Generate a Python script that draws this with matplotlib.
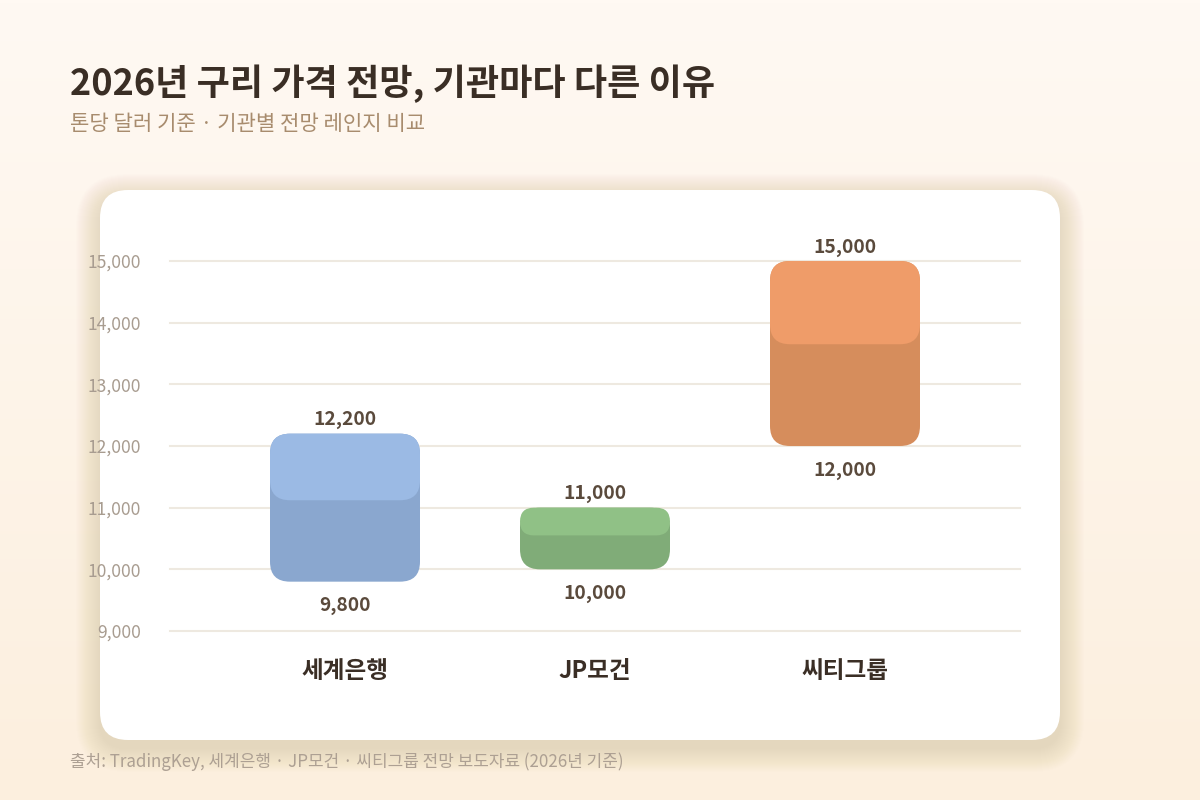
import numpy as np
import matplotlib.pyplot as plt
from matplotlib.patches import FancyBboxPatch

plt.rcParams['font.family'] = ['Noto Sans CJK KR', 'DejaVu Sans']

# data
institutions = ["세계은행", "JP모건", "씨티그룹"]
low_values = [9800, 10000, 12000]
high_values = [12200, 11000, 15000]
y_ticks = [9000, 10000, 11000, 12000, 13000, 14000, 15000]

base_colors = ["#8AA7CF", "#80AC78", "#D68D5C"]
cap_colors = ["#9BBAE4", "#90C186", "#EF9C69"]

title = "2026년 구리 가격 전망, 기관마다 다른 이유"
subtitle = "톤당 달러 기준 · 기관별 전망 레인지 비교"
source = "출처: TradingKey, 세계은행 · JP모건 · 씨티그룹 전망 보도자료 (2026년 기준)"

W, H = 1200, 800
fig = plt.figure(figsize=(12, 8), dpi=100)

# background gradient + card, in pixel coordinates
bg = fig.add_axes([0, 0, 1, 1], zorder=-10)
bg.set_xlim(0, W)
bg.set_ylim(0, H)
bg.axis('off')
top = np.array([255, 249, 243]) / 255
bottom = np.array([252, 239, 222]) / 255
t = np.linspace(0, 1, 256)[:, None]
grad = top * (1 - t) + bottom * t
grad = np.repeat(grad[:, None, :], 2, axis=1)
bg.imshow(grad, extent=[0, W, 0, H], aspect='auto', origin='upper')

card_x, card_y, card_w, card_h = 100, 60, 960, 550
for i in range(24, 0, -1):
    s = FancyBboxPatch((card_x - i, card_y - i - 8), card_w + 2 * i, card_h + 2 * i,
                       boxstyle="round,pad=0,rounding_size=%d" % (28 + i),
                       fc="#B89A78", ec="none", alpha=0.012)
    bg.add_patch(s)
bg.add_patch(FancyBboxPatch((card_x, card_y), card_w, card_h,
                            boxstyle="round,pad=0,rounding_size=28",
                            fc="white", ec="none"))

fig.text(70 / W, 1 - 84 / H, title, fontsize=26, fontweight='bold',
         color="#3A2E25", va='center', ha='left')
fig.text(70 / W, 1 - 124 / H, subtitle, fontsize=15.2, color="#A88C6E",
         va='center', ha='left')
fig.text(70 / W, 1 - 762 / H, source, fontsize=12.2, color="#ADA093",
         va='center', ha='left')

# main chart
ax_l, ax_b, ax_w, ax_h = 170, 169, 850, 370
ax = fig.add_axes([ax_l / W, ax_b / H, ax_w / W, ax_h / H])
ax.set_facecolor('none')
x = np.arange(len(institutions))
ax.set_xlim(-0.7, len(institutions) - 0.3)
ax.set_ylim(y_ticks[0], y_ticks[-1])
ax.set_yticks(y_ticks)
ax.set_yticklabels([f"{v:,}" for v in y_ticks], fontsize=12.6, color="#A89C90")
ax.set_xticks(x)
ax.set_xticklabels(institutions, fontsize=17, fontweight='bold', color="#3A2E25")
ax.tick_params(axis='y', length=0, pad=21)
ax.tick_params(axis='x', length=0, pad=20)
for sp in ax.spines.values():
    sp.set_visible(False)
ax.grid(axis='y', color="#EEE9E0", linewidth=1.5)
for gl in ax.get_ygridlines():
    gl.set_clip_on(False)
ax.set_axisbelow(True)

x_per_px = (ax.get_xlim()[1] - ax.get_xlim()[0]) / ax_w
y_per_px = (ax.get_ylim()[1] - ax.get_ylim()[0]) / ax_h
aspect = y_per_px / x_per_px
bar_w = 0.6
radius = 20 * x_per_px


def rounded(x0, y0, w, h, color):
    r = min(radius, h / aspect / 2)
    p = FancyBboxPatch((x0, y0), w, h,
                       boxstyle="round,pad=0,rounding_size=%f" % r,
                       mutation_aspect=aspect, fc=color, ec="none",
                       clip_on=False, zorder=3)
    ax.add_patch(p)


for xi, lo, hi, c1, c2 in zip(x, low_values, high_values, base_colors, cap_colors):
    h = hi - lo
    rounded(xi - bar_w / 2, lo, bar_w, h, c1)
    rounded(xi - bar_w / 2, hi - 0.45 * h, bar_w, 0.45 * h, c2)
    ax.annotate(f"{hi:,}", (xi, hi), xytext=(0, 14), textcoords='offset pixels',
                ha='center', va='center', fontsize=13.8, fontweight='bold',
                color="#5A4A3C", annotation_clip=False)
    ax.annotate(f"{lo:,}", (xi, lo), xytext=(0, -24), textcoords='offset pixels',
                ha='center', va='center', fontsize=13.8, fontweight='bold',
                color="#5A4A3C", annotation_clip=False)

fig.savefig("out.png", dpi=100)
